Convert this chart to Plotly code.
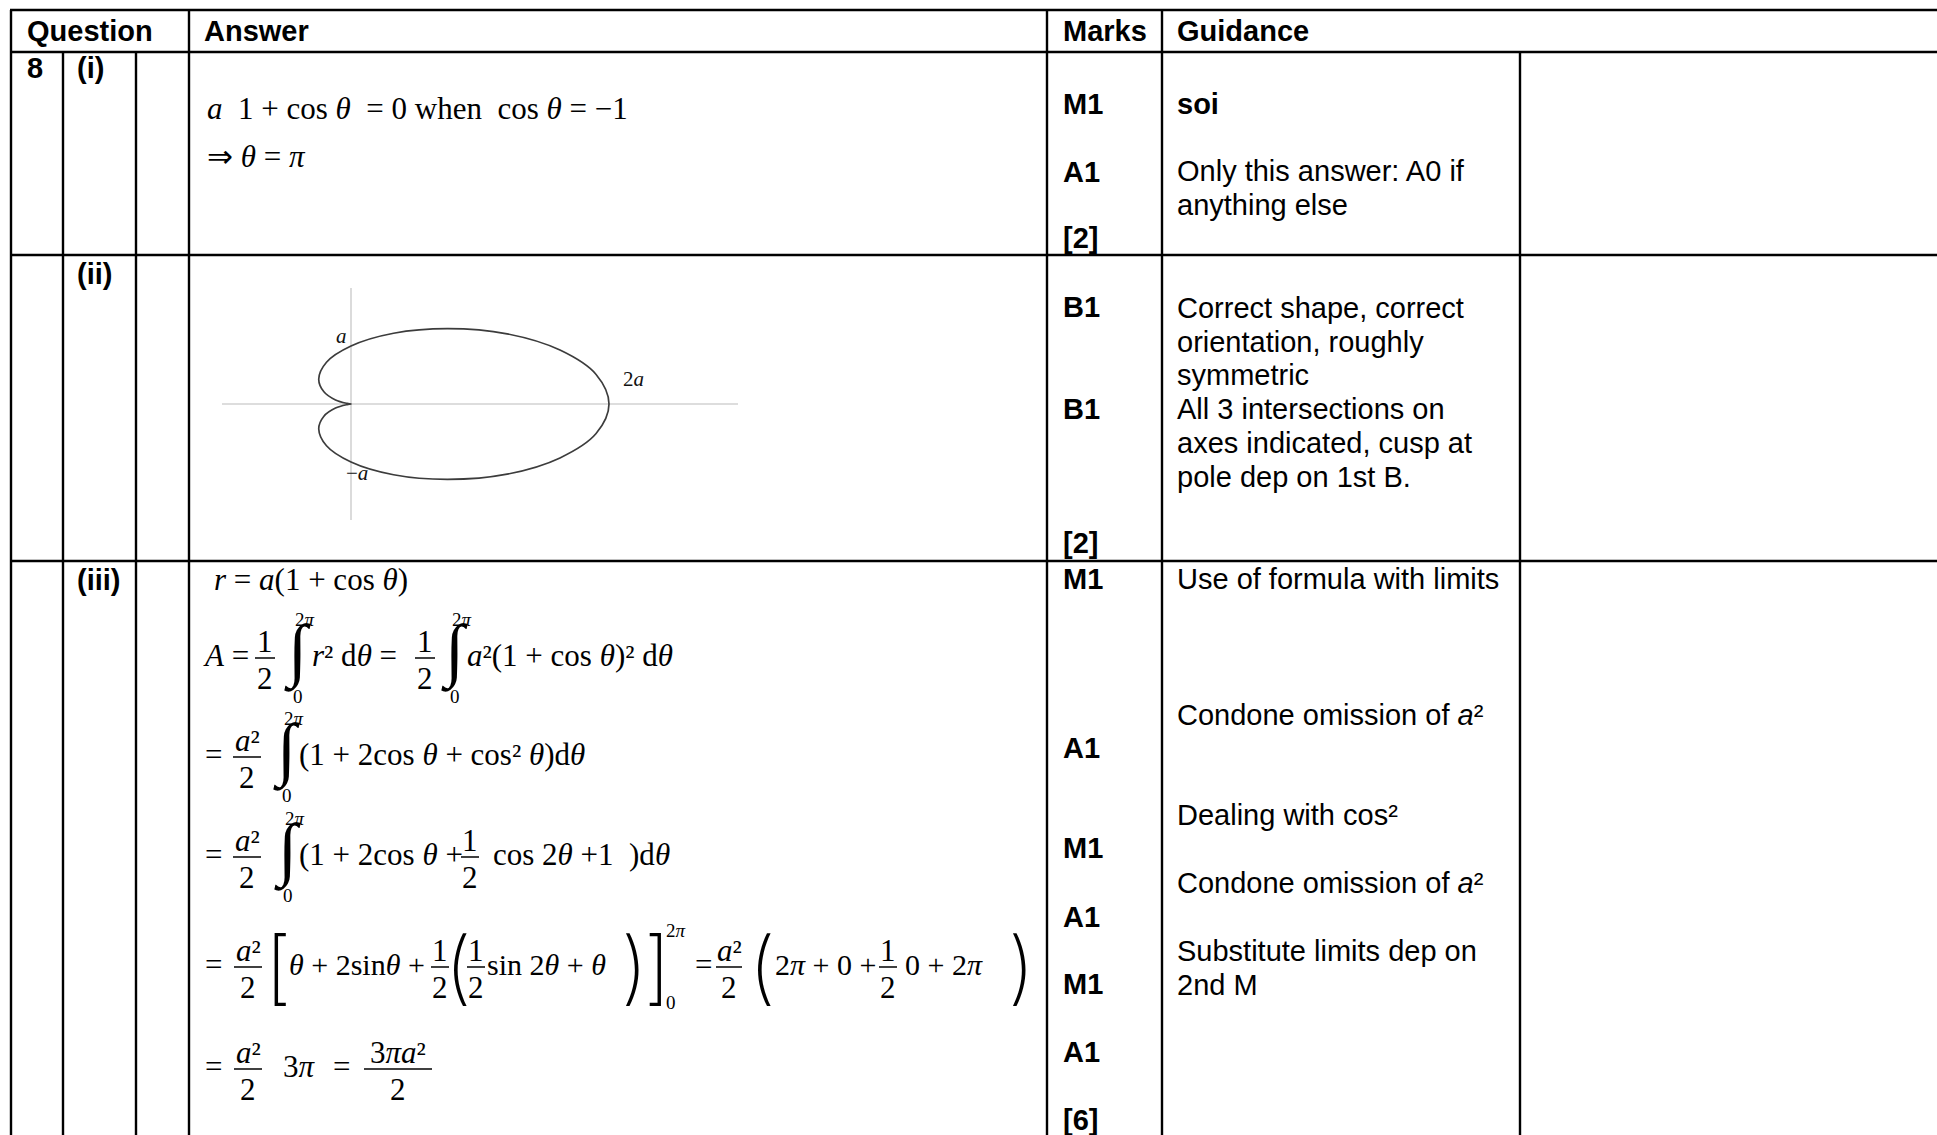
import plotly.graph_objects as go

W, H = 1937, 1135
SANS = "Liberation Sans, Arial, sans-serif"
SERIF = "Liberation Serif, 'Times New Roman', serif"
THIN = "Inter, 'DejaVu Sans', sans-serif"
FS = 29      # sans text size
MS = 31      # math text size
LIM = 19     # integral limit size
INT = 70     # integral sign size
BIG = 80     # big delimiters size

# ---------------- data (content) ----------------
HEADERS = ["Question", "Answer", "Marks", "Guidance"]
QUESTION = "8"
PARTS = ["(i)", "(ii)", "(iii)"]
MARKS = ["M1", "A1", "[2]", "B1", "B1", "[2]",
         "M1", "A1", "M1", "A1", "M1", "A1", "[6]"]
GUIDANCE = ["<b>soi</b>", "Only this answer: A0 if", "anything else",
            "Correct shape, correct", "orientation, roughly", "symmetric",
            "All 3 intersections on", "axes indicated, cusp at", "pole dep on 1st B.",
            "Use of formula with limits", "Condone omission of <i>a</i>\u00b2",
            "Dealing with cos\u00b2", "Condone omission of <i>a</i>\u00b2",
            "Substitute limits dep on", "2nd M"]

# sketch of the curve (units of a)
CURVE_X = [0.00, -0.03, -0.12, -0.21, -0.25, -0.19, 0.00, 0.33, 0.75, 1.21, 1.62, 1.90, 2.00,
           1.90, 1.62, 1.21, 0.75, 0.33, 0.00, -0.19, -0.25, -0.21, -0.12, -0.03, 0.00]
CURVE_Y = [0.00, 0.01, 0.07, 0.21, 0.43, 0.72, 1.00, 1.22, 1.30, 1.21, 0.93, 0.51, 0.00,
           -0.51, -0.93, -1.21, -1.30, -1.22, -1.00, -0.72, -0.43, -0.21, -0.07, -0.01, 0.00]
AXIS_X_EXTENT = [-1, 3]
AXIS_Y_EXTENT = [-2, 2]
SKETCH_LABELS = ["<i>a</i>", "2<i>a</i>", "\u2212<i>a</i>"]
SKETCH_LX = [-0.07, 2.19, 0.05]
SKETCH_LY = [1.17, 0.43, -1.19]

# ---------------- positions (pixels) ----------------
HEADER_X = [27, 204, 1063, 1177]
HEADER_Y = 31
PART_X = 77
PART_Y = [68, 274, 580]
MARK_X = 1063
MARK_Y = [104, 172, 238, 307, 409, 543, 579, 748, 848, 917, 984, 1052, 1120]
GUIDE_X = 1177
GUIDE_Y = [104, 171, 205, 308, 342, 375, 409, 443, 477, 579, 715, 815, 883, 951, 985]
H_RULES = [(10, 10, W), (52, 10, W), (255, 10, W), (561, 10, W)]
V_RULES = [(11, 10, H), (63, 52, H), (136, 52, H), (189, 10, H),
           (1047, 10, H), (1162, 10, H), (1520, 52, H)]

ann, shapes = [], []
DESC = {SANS: 0.212, SERIF: 0.216, THIN: 0.242}


def txt(x, base, s, size, fam, xa="left", bold=False, weight=None):
    """place text with its baseline at `base`"""
    if bold:
        s = "<b>" + s + "</b>"
    font = dict(family=fam, size=size, color="#000")
    if weight is not None:
        font["weight"] = weight
    ann.append(dict(x=x, y=base + DESC[fam] * size, xref="x", yref="y", text=s,
                    showarrow=False, xanchor=xa, yanchor="bottom", borderpad=0,
                    borderwidth=0, font=font))


def sans(x, center, s, bold=False):
    if bold:
        s = "<b>" + s + "</b>"
    ann.append(dict(x=x, y=center, xref="x", yref="y", text=s, showarrow=False,
                    xanchor="left", yanchor="middle", borderpad=0, borderwidth=0,
                    font=dict(family=SANS, size=FS, color="#000")))


def rule(x0, y0, x1, y1, w=2.4, color="#000"):
    shapes.append(dict(type="line", xref="x", yref="y", x0=x0, y0=y0, x1=x1, y1=y1,
                       line=dict(color=color, width=w)))


def R(x, ax, s, size=MS):
    txt(x, ax + 8, s, size, SERIF)


def frac(cx, ax, num, den, w):
    txt(cx, ax - 6, num, MS, SERIF, xa="center")
    txt(cx, ax + 31, den, MS, SERIF, xa="center")
    rule(cx - w / 2, ax, cx + w / 2, ax, w=1.5)


def integral(cx, ax):
    txt(cx, ax + 19, "\u222b", INT, SERIF, xa="center")
    txt(cx + 8, ax - 32, "2<i>\u03c0</i>", LIM, SERIF, xa="center")
    txt(cx + 1, ax + 45, "0", LIM, SERIF, xa="center")


def big(cx, ax, ch):
    txt(cx, ax + 28, ch, BIG, THIN, xa="center", weight=200)


# ---------------- table ----------------
for y, x0, x1 in H_RULES:
    rule(x0, y, x1, y, w=2.6)
for x, y0, y1 in V_RULES:
    rule(x, y0, x, y1, w=2.4)

for s, x in zip(HEADERS, HEADER_X):
    sans(x, HEADER_Y, s, bold=True)
sans(27, PART_Y[0], QUESTION, bold=True)
for s, y in zip(PARTS, PART_Y):
    sans(PART_X, y, s, bold=True)
for s, y in zip(MARKS, MARK_Y):
    sans(MARK_X, y, s, bold=True)
for s, y in zip(GUIDANCE, GUIDE_Y):
    sans(GUIDE_X, y, s)

# ---------------- answers ----------------
TH = "<i>\u03b8</i>"
PI = "<i>\u03c0</i>"
A2 = "<i>a</i>\u00b2"
NB = "\u00a0"

# (i)
R(207, 111, "<i>a</i>" + NB + " 1 + cos " + TH + NB + " = 0 when" + NB + " cos " + TH + " = \u22121")
R(207, 159, "\u21d2 " + TH + " = " + PI)

# (iii) line 1
AX1 = 582
R(214, AX1, "<i>r</i> = <i>a</i>(1 + cos " + TH + ")")
# line 2
AX2 = 658
R(203, AX2, "<i>A</i> =")
frac(265, AX2, "1", "2", 20)
integral(297, AX2)
R(312, AX2, "<i>r</i>\u00b2 d" + TH + " =")
frac(425, AX2, "1", "2", 20)
integral(454, AX2)
R(467, AX2, A2 + "(1 + cos " + TH + ")\u00b2 d" + TH)
# line 3
AX3 = 757
R(205, AX3, "=")
frac(247, AX3, A2, "2", 28)
integral(286, AX3)
R(299, AX3, "(1 + 2cos " + TH + " + cos\u00b2 " + TH + ")d" + TH)
# line 4
AX4 = 857
R(205, AX4, "=")
frac(247, AX4, A2, "2", 28)
integral(287, AX4)
R(299, AX4, "(1 + 2cos " + TH + " +")
frac(470, AX4, "1", "2", 18)
R(493, AX4, "cos 2" + TH + " +1" + NB + " )d" + TH)
# line 5
AX5 = 967
R(205, AX5, "=")
frac(248, AX5, A2, "2", 28)
big(278, AX5, "[")
R(289, AX5, TH + " + 2sin" + TH + " +", size=30)
frac(440, AX5, "1", "2", 18)
big(458, AX5, "(")
frac(476, AX5, "1", "2", 18)
R(487, AX5, "sin 2" + TH + " + " + TH, size=30)
big(634, AX5, ")")
big(657, AX5, "]")
txt(666, AX5 - 30, "2" + PI, LIM, SERIF)
txt(666, AX5 + 42, "0", LIM, SERIF)
R(695, AX5, "=")
frac(729, AX5, A2, "2", 26)
big(762, AX5, "(")
R(775, AX5, "2" + PI + " + 0 +", size=30)
frac(888, AX5, "1", "2", 18)
R(905, AX5, "0 + 2" + PI, size=30)
big(1021, AX5, ")")
# line 6
AX6 = 1069
R(205, AX6, "=")
frac(248, AX6, A2, "2", 28)
R(283, AX6, "3" + PI)
R(333, AX6, "=")
frac(398, AX6, "3" + PI + A2, "2", 68)

# ---------------- figure ----------------
fig = go.Figure()
# sketch (ii)
fig.add_trace(go.Scatter(x=AXIS_X_EXTENT, y=[0, 0], mode="lines", xaxis="x2", yaxis="y2",
                         line=dict(color="#d2d2d2", width=1.6), hoverinfo="skip", showlegend=False))
fig.add_trace(go.Scatter(x=[0, 0], y=AXIS_Y_EXTENT, mode="lines", xaxis="x2", yaxis="y2",
                         line=dict(color="#d2d2d2", width=1.6), hoverinfo="skip", showlegend=False))
fig.add_trace(go.Scatter(x=CURVE_X, y=CURVE_Y, mode="lines", xaxis="x2", yaxis="y2",
                         line=dict(color="#3c3c3c", width=1.7, shape="spline", smoothing=1.0),
                         hoverinfo="skip", showlegend=False))
for s, lx, ly in zip(SKETCH_LABELS, SKETCH_LX, SKETCH_LY):
    ann.append(dict(x=lx, y=ly, xref="x2", yref="y2", text=s, showarrow=False,
                    xanchor="center", yanchor="middle",
                    font=dict(family=SERIF, size=21, color="#111")))

fig.update_layout(
    width=W, height=H, margin=dict(l=0, r=0, t=0, b=0),
    paper_bgcolor="white", plot_bgcolor="rgba(0,0,0,0)",
    xaxis=dict(range=[0, W], visible=False, domain=[0, 1], fixedrange=True),
    yaxis=dict(range=[H, 0], visible=False, domain=[0, 1], fixedrange=True),
    xaxis2=dict(range=[-1, 3], visible=False, anchor="y2",
                domain=[222 / W, 738 / W], fixedrange=True),
    yaxis2=dict(range=[-2, 2], visible=False, anchor="x2",
                domain=[(H - 520) / H, (H - 288) / H], fixedrange=True),
    annotations=ann, shapes=shapes, showlegend=False,
)
fig.write_html("out.html", config={"displayModeBar": False},
               post_script="document.body.style.margin='0';document.body.style.overflow='hidden';")
